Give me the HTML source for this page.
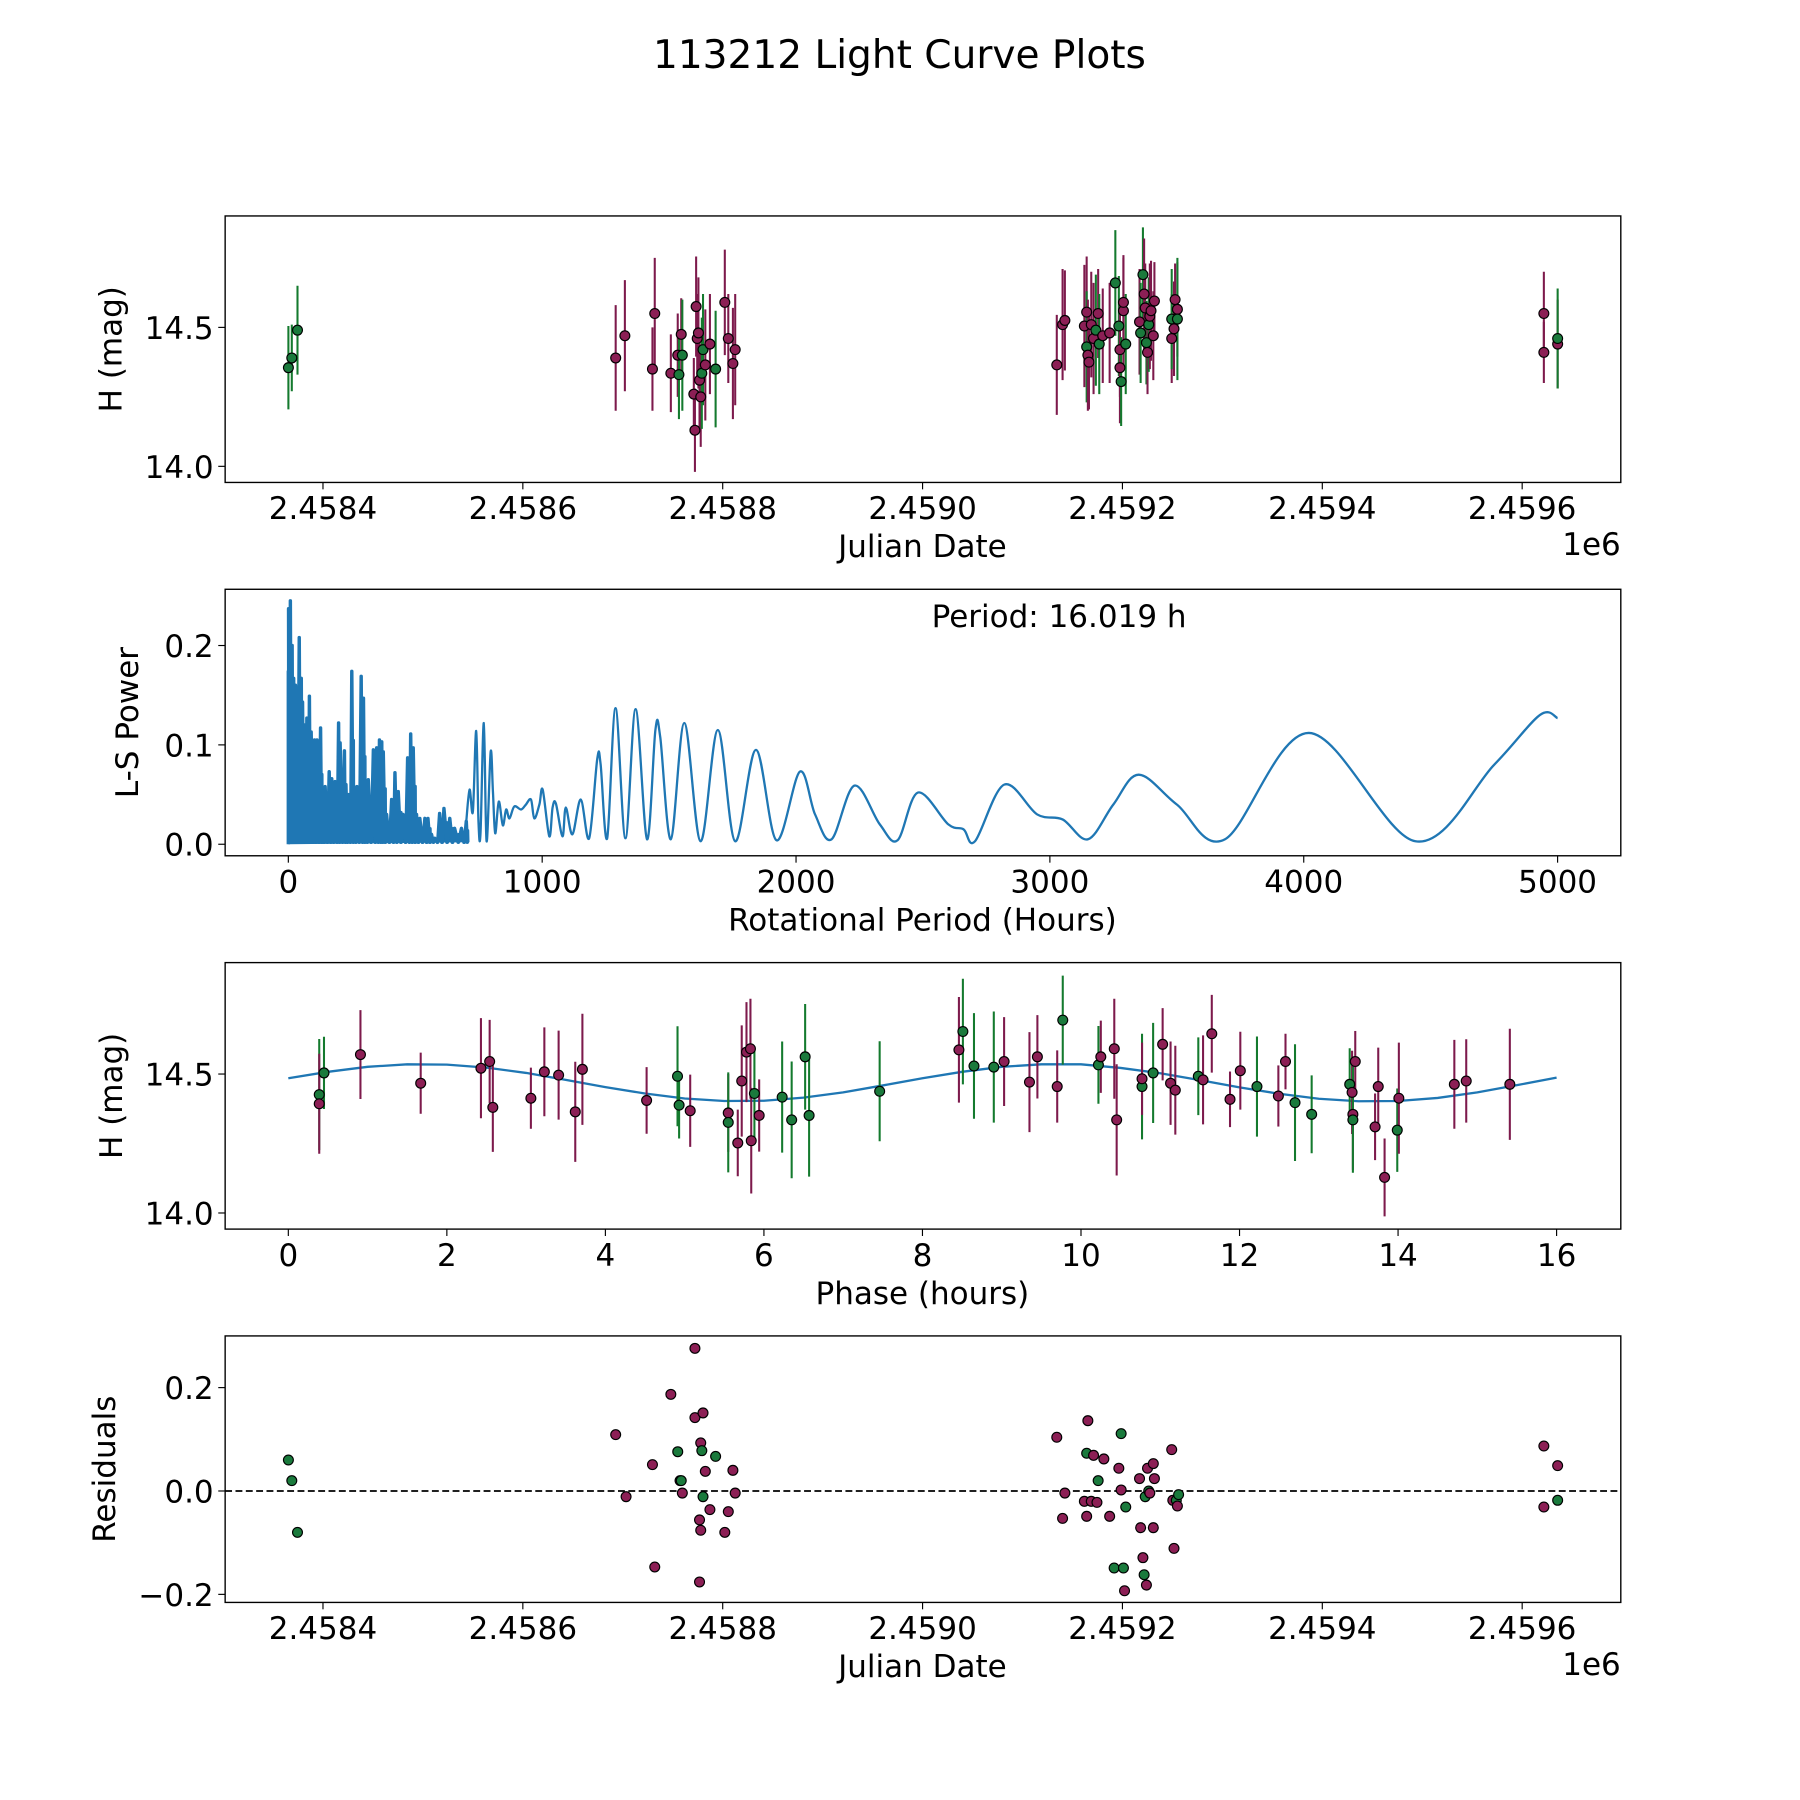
<!DOCTYPE html>
<html><head><meta charset="utf-8"><style>
html,body{margin:0;padding:0;background:#fff}
svg{display:block}
text{font-family:"DejaVu Sans","Liberation Sans",sans-serif;fill:#000}
</style></head><body>
<svg id="fig" width="1800" height="1800" viewBox="0 0 1567 1567" xmlns="http://www.w3.org/2000/svg">
<rect width="1567" height="1567" fill="#fff"/>
<text x="783" y="59" font-size="34" text-anchor="middle">113212 Light Curve Plots</text>
</svg>
<script>
// Reference epoch: JD values below are days since jdBase
const jdBase=2457968.8;
const jdTickValues=[2458400,2458600,2458800,2459000,2459200,2459400,2459600];

// ---- Panel 1: light curve ----
const lcJD=[396.6,400,405.7,724.1,733.3,760.9,763.2,779.3,786.2,787.4,789.7,790.8,802.3,803.4,804.6,805.7,806.9,808.0,809.2,810.3,811.5,813.8,818.4,824.1,833.3,836.8,841.4,843.7,1165.5,1171.3,1173.6,1193.1,1195.4,1195.4,1196.6,1197.7,1200,1202.3,1204.6,1206.9,1208.0,1211.5,1218.4,1224.1,1227.6,1228.7,1228.7,1229.9,1232.2,1232.2,1234.5,1248.3,1249.4,1251.7,1252.9,1254.0,1255.2,1256.3,1257.5,1258.6,1259.8,1262.1,1263.2,1280.5,1280.5,1282.8,1283.9,1286.2,1286.2,1652.9,1652.9,1666.7,1666.7];
const lcMag=[14.355,14.39,14.49,14.39,14.47,14.35,14.55,14.335,14.40,14.33,14.475,14.40,14.26,14.13,14.575,14.46,14.48,14.31,14.25,14.335,14.42,14.365,14.44,14.35,14.59,14.46,14.37,14.42,14.365,14.51,14.525,14.505,14.555,14.43,14.40,14.375,14.51,14.46,14.49,14.55,14.44,14.47,14.48,14.66,14.505,14.355,14.42,14.305,14.56,14.59,14.44,14.52,14.48,14.69,14.62,14.57,14.445,14.41,14.51,14.54,14.56,14.47,14.595,14.46,14.53,14.495,14.60,14.565,14.53,14.55,14.41,14.44,14.46];
const lcErr=[0.15,0.12,0.16,0.19,0.2,0.15,0.2,0.14,0.15,0.16,0.13,0.2,0.13,0.15,0.18,0.16,0.2,0.17,0.18,0.2,0.2,0.2,0.18,0.21,0.19,0.16,0.2,0.2,0.18,0.2,0.18,0.22,0.2,0.2,0.2,0.17,0.19,0.2,0.2,0.16,0.18,0.17,0.18,0.19,0.18,0.2,0.17,0.16,0.2,0.16,0.18,0.19,0.18,0.17,0.2,0.16,0.15,0.15,0.17,0.19,0.18,0.16,0.14,0.16,0.18,0.17,0.13,0.17,0.22,0.15,0.11,0.16,0.18];
const lcBand=['g','g','g','p','p','p','p','p','p','g','p','g','p','p','p','p','p','p','p','g','g','p','p','g','p','p','p','p','p','p','p','p','p','g','p','p','p','p','g','p','g','p','p','g','g','p','p','g','p','p','g','p','g','g','p','p','g','p','g','p','p','p','p','p','g','p','p','p','g','p','p','p','g'];

// ---- Panel 2: periodogram ----
const densePeriod=[0,0.9,8,15,21,28,43,51,56,64,73,83,90,103,113,127,135,145,161,171,184,198,204,221,227,237,250,260,270,287,296,305,315,335,348,359,368,374,387,407,420,433,452,470,482,492,505,518,538,550,564,577,596,613,636,655,682,701];
const densePower=[0.174,0.237,0.245,0.2,0.167,0.16,0.208,0.167,0.143,0.12,0.127,0.149,0.113,0.105,0.105,0.117,0.057,0.058,0.073,0.066,0.063,0.122,0.102,0.094,0.06,0.05,0.174,0.057,0.058,0.169,0.147,0.057,0.065,0.095,0.097,0.105,0.103,0.093,0.03,0.045,0.072,0.053,0.03,0.087,0.111,0.097,0.03,0.026,0.026,0.026,0.01,0.006,0.031,0.036,0.026,0.016,0.016,0.023];
const smoothPeriod=[701,714,727,740,749,757,770,781,797,806,815,829,845,858,871,890,917,936,956,969,989,1002,1028,1041,1054,1080,1093,1119,1152,1185,1217,1230,1256,1289,1328,1368,1413,1446,1465,1507,1560,1624,1692,1760,1842,1923,2015,2075,2140,2230,2330,2400,2480,2600,2660,2705,2820,2950,3050,3150,3250,3350,3500,3690,4020,4440,4750,4930,5000];
const smoothPower=[0.023,0.055,0.033,0.114,0.023,0.011,0.122,0.003,0.093,0.053,0.011,0.043,0.019,0.035,0.026,0.038,0.035,0.04,0.045,0.026,0.04,0.055,0.008,0.037,0.041,0.008,0.037,0.01,0.045,0.006,0.086,0.081,0.006,0.137,0.006,0.136,0.005,0.115,0.108,0.005,0.122,0.003,0.115,0.003,0.095,0.004,0.073,0.03,0.005,0.059,0.02,0.004,0.052,0.02,0.015,0.003,0.06,0.03,0.025,0.005,0.04,0.07,0.04,0.005,0.112,0.003,0.08,0.13,0.127];
const periodLabel="Period: 16.019 h";

// ---- Panel 3: phase-folded ----
const phase=[0.39,0.39,0.45,0.91,1.67,2.43,2.54,2.58,3.06,3.23,3.41,3.62,3.71,4.52,4.91,4.93,5.07,5.55,5.55,5.67,5.72,5.78,5.83,5.84,5.88,5.94,6.23,6.35,6.52,6.57,7.46,8.46,8.51,8.65,8.90,9.03,9.35,9.45,9.70,9.77,10.22,10.25,10.42,10.45,10.77,10.77,10.91,11.03,11.13,11.19,11.48,11.54,11.65,11.88,12.01,12.22,12.49,12.58,12.70,12.91,13.39,13.42,13.43,13.46,13.43,13.71,13.75,13.83,13.99,14.01,14.71,14.86,15.41];
const phaseMag=[14.426,14.393,14.504,14.57,14.467,14.521,14.545,14.38,14.413,14.508,14.496,14.364,14.517,14.405,14.492,14.388,14.368,14.36,14.326,14.252,14.475,14.579,14.591,14.26,14.43,14.351,14.417,14.335,14.562,14.351,14.438,14.587,14.653,14.529,14.525,14.545,14.471,14.562,14.455,14.694,14.533,14.562,14.591,14.335,14.455,14.483,14.504,14.607,14.467,14.442,14.492,14.479,14.645,14.409,14.512,14.455,14.421,14.545,14.397,14.355,14.463,14.434,14.355,14.545,14.335,14.31,14.455,14.128,14.298,14.413,14.463,14.475,14.463];
const phaseErr=[0.2,0.18,0.13,0.16,0.11,0.18,0.15,0.16,0.11,0.16,0.16,0.18,0.2,0.12,0.18,0.12,0.13,0.14,0.18,0.12,0.2,0.18,0.18,0.19,0.16,0.13,0.2,0.21,0.19,0.22,0.18,0.19,0.19,0.19,0.2,0.16,0.18,0.15,0.13,0.16,0.14,0.13,0.18,0.2,0.19,0.13,0.18,0.13,0.15,0.16,0.14,0.16,0.14,0.1,0.14,0.18,0.11,0.1,0.21,0.14,0.13,0.15,0.2,0.11,0.19,0.12,0.14,0.14,0.15,0.2,0.16,0.15,0.2];
const phaseBand=['g','p','g','p','p','p','p','p','p','p','p','p','p','p','g','g','p','p','g','p','p','p','p','p','g','p','g','g','g','g','g','p','g','g','g','p','p','p','p','g','g','p','p','p','g','p','g','p','p','p','g','p','p','p','p','g','p','p','g','g','g','p','p','p','g','p','p','p','g','p','p','p','p'];
const modelPhase=[0,0.5,1,1.5,2,2.5,3,3.5,4,4.5,5,5.5,6,6.5,7,7.5,8,8.5,9,9.5,10,10.5,11,11.5,12,12.5,13,13.5,14,14.5,15,15.5,16];
const modelMag=[14.485,14.508,14.526,14.535,14.534,14.523,14.504,14.479,14.453,14.43,14.412,14.403,14.404,14.415,14.434,14.459,14.485,14.508,14.526,14.535,14.535,14.522,14.503,14.478,14.452,14.429,14.411,14.402,14.403,14.414,14.434,14.46,14.487];

// ---- Panel 4: residuals ----
const resJD=[396.6,400,405.7,724.1,734.5,760.9,763.2,779.3,786.2,788.5,789.7,790.8,803.4,803.4,808.0,808.0,809.2,809.2,810.3,811.5,811.5,813.8,818.4,824.1,833.3,836.8,841.4,843.7,1165.5,1171.3,1173.6,1193.1,1195.4,1195.4,1196.6,1200,1202.3,1205.7,1206.9,1212.6,1218.4,1222.9,1227.6,1229.9,1229.9,1232.2,1233.3,1234.5,1248.3,1249.4,1251.7,1252.9,1254.0,1255.2,1256.3,1257.5,1258.6,1262.1,1262.1,1263.2,1280.5,1281.6,1282.8,1285.1,1286.2,1287.4,1652.9,1652.9,1666.7,1666.7];
const resVal=[0.06,0.02,-0.08,0.109,-0.011,0.051,-0.147,0.187,0.076,0.02,0.02,-0.004,0.276,0.142,-0.176,-0.056,0.093,-0.076,0.078,0.151,-0.011,0.038,-0.036,0.067,-0.08,-0.04,0.04,-0.004,0.104,-0.053,-0.004,-0.02,-0.049,0.073,0.136,-0.02,0.069,-0.022,0.02,0.062,-0.049,-0.149,0.044,0.002,0.111,-0.149,-0.193,-0.031,0.024,-0.071,-0.129,-0.162,-0.011,-0.182,0.044,0,-0.004,0.053,-0.071,0.024,0.08,-0.018,-0.111,-0.018,-0.029,-0.007,0.087,-0.031,0.049,-0.018];
const resBand=['g','g','g','p','p','p','p','p','g','p','g','p','p','p','p','p','p','p','g','p','g','p','p','g','p','p','p','p','p','p','p','p','p','g','p','p','p','p','g','p','p','g','p','p','g','g','p','g','p','p','p','g','g','p','p','g','p','p','p','p','p','p','p','g','p','g','p','p','p','g'];

const NS='http://www.w3.org/2000/svg';
const fig=document.getElementById('fig');
const COL={p:{fill:'#8c1f55',bar:'#7d1a4c'},g:{fill:'#1a7a3c',bar:'#147a2e'}};
function mk(tag,attrs,parent){const e=document.createElementNS(NS,tag);for(const k in attrs)e.setAttribute(k,attrs[k]);(parent||fig).appendChild(e);return e;}
function lin(d0,d1,r0,r1){return v=>r0+(v-d0)*(r1-r0)/(d1-d0);}
const L=196,R=1411,H=232;
const TF=27, LF=27;

function makePanel(name,top,xd,yd,xticks,yticks,xlab,ylab,ylabX,xoff){
  const g=mk('g',{});
  
  
  const x=lin(xd[0],xd[1],L,R), y=lin(yd[0],yd[1],top+H,top);
  const cid='clip-'+name;
  const cp=mk('clipPath',{id:cid},g);mk('rect',{x:L,y:top,width:R-L,height:H},cp);
  const plot=mk('g',{'clip-path':'url(#'+cid+')'},g);
  
  
  const xa=mk('g',{},g);
  
  
  xticks.forEach(t=>{const px=x(t.v);mk('line',{x1:px,x2:px,y1:top+H,y2:top+H+6,stroke:'#000','stroke-width':1},xa);
    const tx=mk('text',{x:px,y:top+H+32,'font-size':TF,'text-anchor':'middle'},xa);tx.textContent=t.l;
    
    });
  const xl=mk('text',{x:803,y:top+H+65,'font-size':LF,'text-anchor':'middle'},g);xl.textContent=xlab;
  
  
  if(xoff){const o=mk('text',{x:R,y:top+H+63,'font-size':LF,'text-anchor':'end'},g);o.textContent=xoff;
    
    }
  const ya=mk('g',{},g);
  
  
  yticks.forEach(t=>{const py=y(t.v);mk('line',{x1:L-6,x2:L,y1:py,y2:py,stroke:'#000','stroke-width':1},ya);
    const tx=mk('text',{x:L-10,y:py+10,'font-size':TF,'text-anchor':'end'},ya);tx.textContent=t.l;
    
    });
  const cy=top+H/2;
  const yl=mk('text',{x:ylabX,y:cy,'font-size':LF,'text-anchor':'middle',transform:`rotate(-90 ${ylabX} ${cy})`},g);yl.textContent=ylab;
  
  
  mk('rect',{x:L,y:top,width:R-L,height:H,fill:'none',stroke:'#000','stroke-width':1.2},g);
  return {g,plot,x,y,top};
}
function errPoints(P,xs,ys,es,bs,label){
  const layer=mk('g',{},P.plot);
  
  
  xs.forEach((v,i)=>{const px=P.x(v);const b=mk('line',{x1:px,x2:px,y1:P.y(ys[i]-es[i]),y2:P.y(ys[i]+es[i]),stroke:COL[bs[i]].bar,'stroke-width':1.8},layer);
    
    });
  const pts=mk('g',{},P.plot);
  
  
  xs.forEach((v,i)=>{const c=mk('circle',{cx:P.x(v),cy:P.y(ys[i]),r:4.3,fill:COL[bs[i]].fill,stroke:'#000','stroke-width':1},pts);
    
    });
}
const jdTicks=jdTickValues.map(j=>({v:j-jdBase,l:(j/1e6).toFixed(4)}));

// Panel 1
const P1=makePanel('light-curve-panel',188,[333.3,1729.9],[13.942,14.901],jdTicks,[{v:14,l:'14.0'},{v:14.5,l:'14.5'}],'Julian Date','H (mag)',106,'1e6');
errPoints(P1,lcJD,lcMag,lcErr,lcBand,'light-curve');

// Panel 2
const P2=makePanel('periodogram-panel',513,[-248.9,5249],[-0.0116,0.2566],[0,1000,2000,3000,4000,5000].map(v=>({v,l:String(v)})),[{v:0,l:'0.0'},{v:0.1,l:'0.1'},{v:0.2,l:'0.2'}],'Rotational Period (Hours)','L-S Power',120);
(function(){
  let d=`M${P2.x(densePeriod[0])},${P2.y(0)}`;
  densePeriod.forEach((p,i)=>{
    const nx=i<densePeriod.length-1?densePeriod[i+1]:p+8;
    d+=` L${P2.x(p)},${P2.y(densePower[i])} L${P2.x((p+nx)/2)},${P2.y(0.002)}`;
    d+=` L${P2.x((p+nx)/2+1)},${P2.y(densePower[i]*0.6)} L${P2.x((p+nx)/2+2)},${P2.y(0.002)}`;
  });
  const dense=mk('path',{d,fill:'#1f77b4',stroke:'#1f77b4','stroke-width':3,'stroke-linejoin':'round'},P2.plot);
  
  
  const pts=smoothPeriod.map((p,i)=>[P2.x(p),P2.y(smoothPower[i])]);
  let s=`M${pts[0][0]},${pts[0][1]}`;
  for(let i=0;i<pts.length-1;i++){const p0=pts[Math.max(0,i-1)],p1=pts[i],p2=pts[i+1],p3=pts[Math.min(pts.length-1,i+2)];
    s+=` C${p1[0]+(p2[0]-p0[0])/6},${p1[1]+(p2[1]-p0[1])/6} ${p2[0]-(p3[0]-p1[0])/6},${p2[1]-(p3[1]-p1[1])/6} ${p2[0]},${p2[1]}`;}
  const line=mk('path',{d:s,fill:'none',stroke:'#1f77b4','stroke-width':2},P2.plot);
  
  
  const t=mk('text',{x:922,y:546,'font-size':LF,'text-anchor':'middle'},P2.g);t.textContent=periodLabel;
  
  
})();

// Panel 3
const P3=makePanel('phase-panel',838,[-0.797,16.81],[13.942,14.901],[0,2,4,6,8,10,12,14,16].map(v=>({v,l:String(v)})),[{v:14,l:'14.0'},{v:14.5,l:'14.5'}],'Phase (hours)','H (mag)',106);
(function(){
  const d=modelPhase.map((p,i)=>(i?'L':'M')+P3.x(p)+','+P3.y(modelMag[i])).join(' ');
  const m=mk('path',{d,fill:'none',stroke:'#1f77b4','stroke-width':2},P3.plot);
  
  
})();
errPoints(P3,phase,phaseMag,phaseErr,phaseBand,'phase');

// Panel 4
const P4=makePanel('residuals-panel',1163,[333.3,1729.9],[-0.2156,0.3],jdTicks,[{v:-0.2,l:'\u22120.2'},{v:0,l:'0.0'},{v:0.2,l:'0.2'}],'Julian Date','Residuals',100,'1e6');
(function(){
  const z=mk('line',{x1:L,x2:R,y1:P4.y(0),y2:P4.y(0),stroke:'#000','stroke-width':1.5,'stroke-dasharray':'6,3'},P4.plot);
  
  
  const pts=mk('g',{},P4.plot);
  
  
  resJD.forEach((v,i)=>{const c=mk('circle',{cx:P4.x(v),cy:P4.y(resVal[i]),r:4.3,fill:COL[resBand[i]].fill,stroke:'#000','stroke-width':1},pts);
    
    });
})();
</script>
</body></html>
